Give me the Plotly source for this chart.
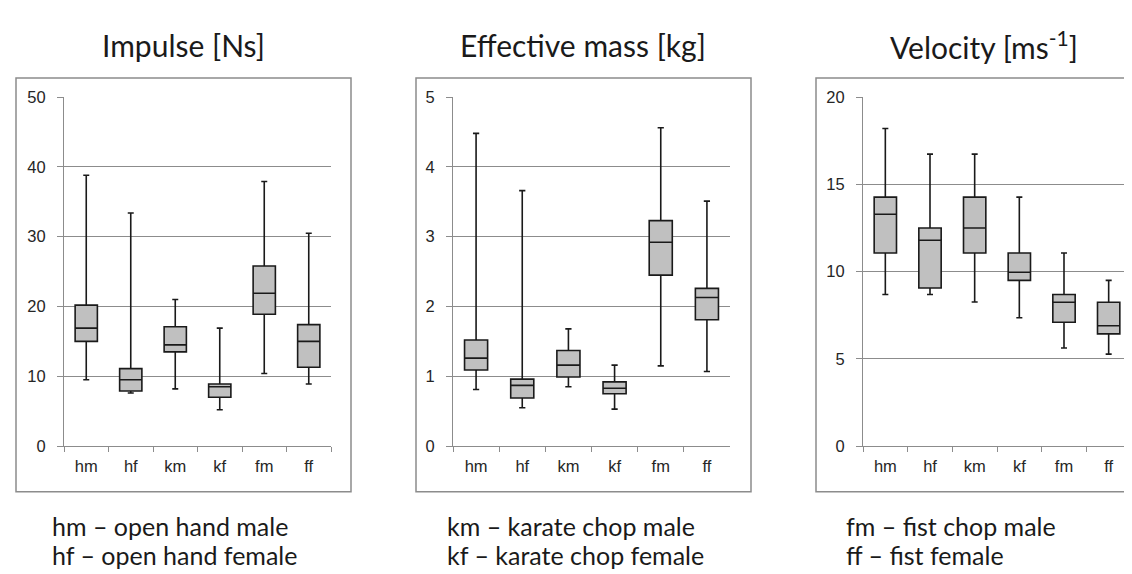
import plotly.graph_objects as go

W, H = 1132, 574

categories = ["hm", "hf", "km", "kf", "fm", "ff"]

# Impulse [Ns]
imp_low = [9.5, 7.6, 8.2, 5.2, 10.4, 8.9]
imp_q1 = [15.0, 7.9, 13.5, 7.0, 18.9, 11.3]
imp_med = [16.9, 9.5, 14.5, 8.5, 21.9, 15.0]
imp_q3 = [20.2, 11.1, 17.1, 8.9, 25.8, 17.4]
imp_high = [38.8, 33.4, 21.0, 16.9, 37.9, 30.5]

# Effective mass [kg]
mass_low = [0.81, 0.55, 0.85, 0.53, 1.15, 1.07]
mass_q1 = [1.09, 0.69, 0.99, 0.75, 2.45, 1.81]
mass_med = [1.26, 0.87, 1.16, 0.83, 2.92, 2.13]
mass_q3 = [1.52, 0.96, 1.37, 0.92, 3.23, 2.26]
mass_high = [4.48, 3.66, 1.68, 1.16, 4.56, 3.51]

# Velocity [ms-1]
vel_low = [8.69, 8.69, 8.26, 7.36, 5.62, 5.27]
vel_q1 = [11.07, 9.06, 11.07, 9.5, 7.1, 6.43]
vel_med = [13.29, 11.8, 12.5, 9.96, 8.24, 6.9]
vel_q3 = [14.27, 12.5, 14.27, 11.07, 8.69, 8.24]
vel_high = [18.2, 16.73, 16.73, 14.27, 11.07, 9.5]

titles = ["Impulse [Ns]", "Effective mass [kg]", "Velocity [ms<sup>-1</sup>]"]
y_ranges = [[0, 50], [0, 5], [0, 20]]
y_dticks = [10, 1, 5]

legend_lines = [
    ["hm – open hand male", "hf – open hand female"],
    ["km – karate chop male", "kf – karate chop female"],
    ["fm – fist chop male", "ff – fist female"],
]

panels = [
    (imp_low, imp_q1, imp_med, imp_q3, imp_high),
    (mass_low, mass_q1, mass_med, mass_q3, mass_high),
    (vel_low, vel_q1, vel_med, vel_q3, vel_high),
]

# layout geometry in pixels
plot_x = [(56, 323), (445, 722), (855, 1123)]
frame_x = [(8, 343), (408, 743), (808, 1145)]
plot_y = (82.7, 443)   # top, bottom
frame_y = (63, 490)
title_cx = [175.5, 575.5, 976]
legend_x = [42, 437, 836]
legend_y = [525.5, 555]

def px(x):
    return x / W

def py(y):
    return 1 - y / H

fig = go.Figure()
GRID = "#8c8c8c"
tick_font = dict(family="Liberation Sans, Arial, sans-serif", size=16.5, color="#262626")

for i, (lo, q1, med, q3, hi) in enumerate(panels):
    xa = "x" if i == 0 else f"x{i+1}"
    ya = "y" if i == 0 else f"y{i+1}"
    fig.add_trace(go.Box(
        x=categories, lowerfence=lo, q1=q1, median=med, q3=q3, upperfence=hi,
        xaxis=xa, yaxis=ya,
        fillcolor="#c0c0c0",
        line=dict(color="#1a1a1a", width=1.6),
        width=0.5, whiskerwidth=0.27,
        boxpoints=False, showlegend=False, hoverinfo="skip",
    ))
    xk = "xaxis" if i == 0 else f"xaxis{i+1}"
    yk = "yaxis" if i == 0 else f"yaxis{i+1}"
    x0, x1 = plot_x[i]
    fig.layout[xk] = dict(
        domain=[px(x0), px(x1)], anchor=ya, type="category",
        categoryorder="array", categoryarray=categories,
        range=[-0.5, 5.5], showgrid=False, showline=True, linecolor=GRID,
        linewidth=1.2, ticks="outside", tickson="boundaries", ticklen=5,
        tickcolor=GRID, tickwidth=1.2, tickfont=tick_font, zeroline=False,
        ticklabelstandoff=5, fixedrange=True,
    )
    fig.layout[yk] = dict(
        domain=[py(plot_y[1]), py(plot_y[0])], anchor=xa,
        range=y_ranges[i], dtick=y_dticks[i], tick0=0,
        showgrid=True, gridcolor=GRID, gridwidth=1.2,
        showline=True, linecolor=GRID, linewidth=1.2,
        ticks="outside", ticklen=6, tickcolor=GRID, tickwidth=1.2,
        tickfont=tick_font, zeroline=False, ticklabelstandoff=8,
        fixedrange=True,
    )
    fx0, fx1 = frame_x[i]
    fig.add_shape(type="rect", xref="paper", yref="paper",
                  x0=px(fx0), x1=px(fx1), y0=py(frame_y[1]), y1=py(frame_y[0]),
                  line=dict(color="#8c8c8c", width=1.5), layer="below")
    fig.add_annotation(text=titles[i], xref="paper", yref="paper",
                       x=px(title_cx[i]), y=py(29), xanchor="center", yanchor="middle",
                       showarrow=False,
                       font=dict(family="Lato, sans-serif", size=30, color="#1a1a1a"))
    for j, line in enumerate(legend_lines[i]):
        fig.add_annotation(text=line, xref="paper", yref="paper",
                           x=px(legend_x[i]), y=py(legend_y[j]), xanchor="left",
                           yanchor="middle", showarrow=False,
                           font=dict(family="Lato, sans-serif", size=25, color="#1a1a1a"))

fig.update_layout(
    width=W, height=H,
    margin=dict(l=0, r=0, t=0, b=0),
    paper_bgcolor="white", plot_bgcolor="white",
    showlegend=False,
)

fig.write_html("out.html", config={"displayModeBar": False})
